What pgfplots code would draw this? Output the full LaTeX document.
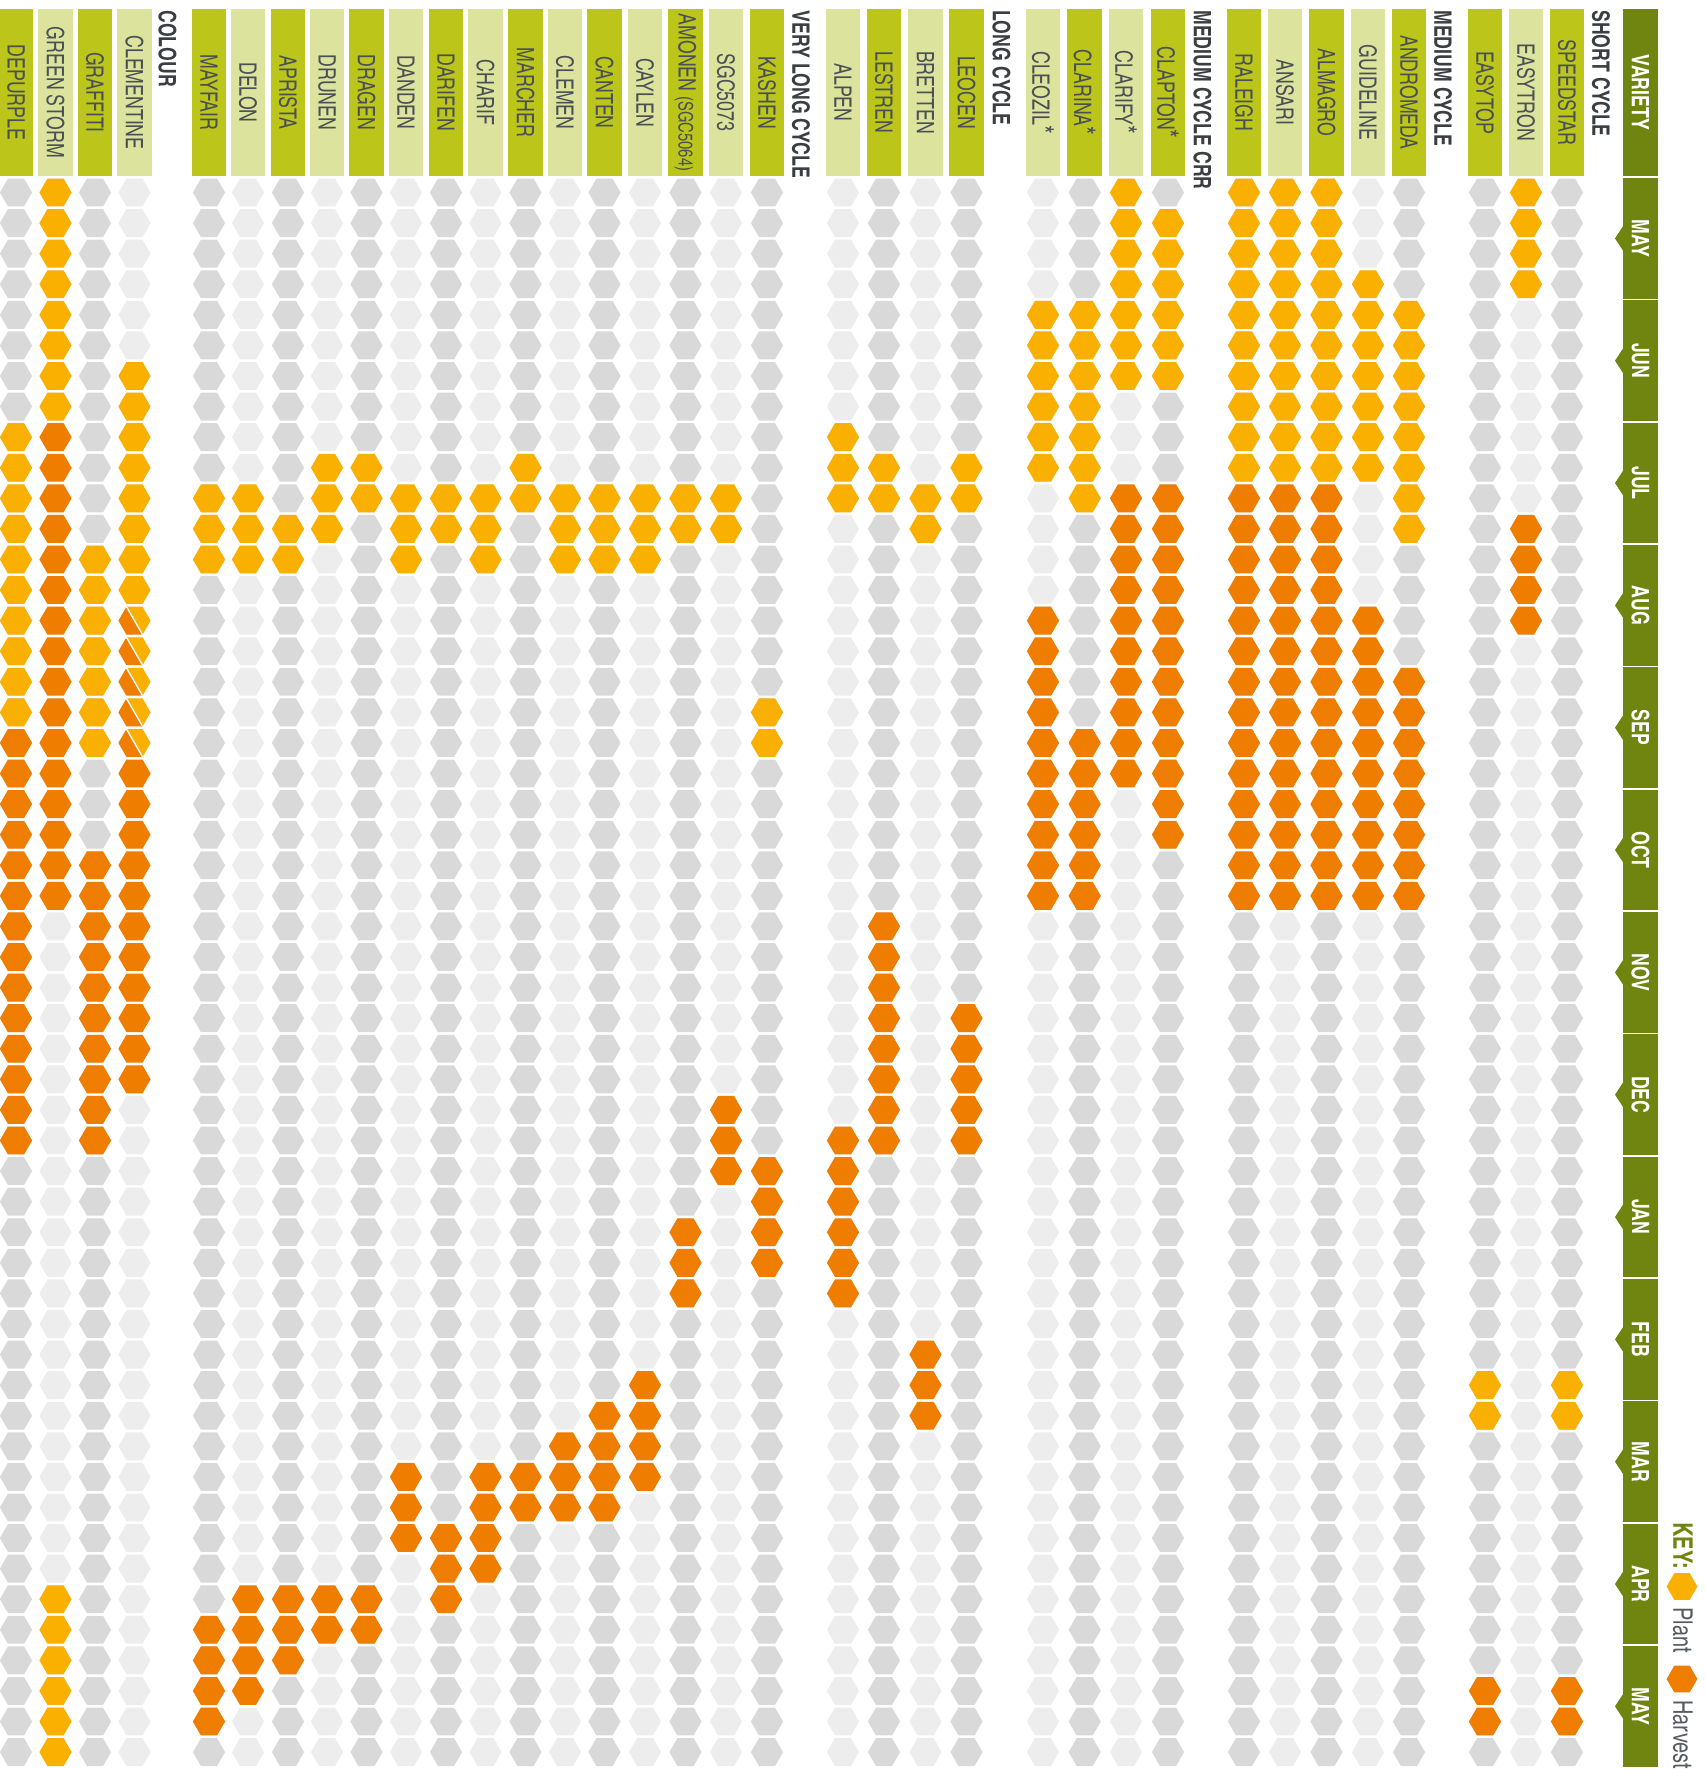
\documentclass[border=0pt]{standalone}
\usepackage{fontspec}
\setmainfont{texgyreheroscn}[Extension=.otf,UprightFont=*-regular,BoldFont=*-bold,FakeStretch=0.9]
\usepackage{pgfplots}
\pgfplotsset{compat=1.18}
\usepackage{pgfplotstable}

\definecolor{olivebar}{RGB}{112,133,15}
\definecolor{hdark}{RGB}{187,197,26}
\definecolor{hlight}{RGB}{220,227,157}
\definecolor{gdark}{RGB}{217,217,217}
\definecolor{glight}{RGB}{236,237,236}
\definecolor{plantc}{RGB}{249,176,0}
\definecolor{harvc}{RGB}{239,125,0}
\definecolor{lbltext}{RGB}{75,80,86}
\definecolor{grptext}{RGB}{58,62,67}
\definecolor{keytext}{RGB}{88,92,97}

\pgfdeclareplotmark{hexf}{%
 \pgfpathmoveto{\pgfqpointpolar{0}{\pgfplotmarksize}}%
 \pgfpathlineto{\pgfqpointpolar{60}{\pgfplotmarksize}}%
 \pgfpathlineto{\pgfqpointpolar{120}{\pgfplotmarksize}}%
 \pgfpathlineto{\pgfqpointpolar{180}{\pgfplotmarksize}}%
 \pgfpathlineto{\pgfqpointpolar{240}{\pgfplotmarksize}}%
 \pgfpathlineto{\pgfqpointpolar{300}{\pgfplotmarksize}}%
 \pgfpathclose\pgfusepathqfill}
\pgfdeclareplotmark{hexUR}{%
 \pgfpathmoveto{\pgfqpointpolar{300}{\pgfplotmarksize}}%
 \pgfpathlineto{\pgfqpointpolar{0}{\pgfplotmarksize}}%
 \pgfpathlineto{\pgfqpointpolar{60}{\pgfplotmarksize}}%
 \pgfpathlineto{\pgfqpointpolar{120}{\pgfplotmarksize}}%
 \pgfpathclose\pgfusepathqfill}
\pgfdeclareplotmark{hexLL}{%
 \pgfpathmoveto{\pgfqpointpolar{120}{\pgfplotmarksize}}%
 \pgfpathlineto{\pgfqpointpolar{180}{\pgfplotmarksize}}%
 \pgfpathlineto{\pgfqpointpolar{240}{\pgfplotmarksize}}%
 \pgfpathlineto{\pgfqpointpolar{300}{\pgfplotmarksize}}%
 \pgfpathclose\pgfusepathqfill}
\pgfdeclareplotmark{hexcut}{%
 \pgfpathmoveto{\pgfqpointpolar{120}{\pgfplotmarksize}}%
 \pgfpathlineto{\pgfqpointpolar{300}{\pgfplotmarksize}}%
 \pgfusepathqstroke}

\pgfplotsset{
 hexbase/.style={only marks, mark=hexf, mark size=8.05pt, forget plot},
 gd/.style={hexbase, color=gdark},
 gl/.style={hexbase, color=glight},
 pl/.style={hexbase, color=plantc},
 hv/.style={hexbase, color=harvc},
}

\pgfplotstableread[row sep=\\]{r\\0\\1\\2\\3\\4\\5\\6\\7\\8\\9\\10\\11\\12\\13\\14\\15\\16\\17\\18\\19\\20\\21\\22\\23\\24\\25\\26\\27\\28\\29\\30\\31\\32\\33\\34\\35\\36\\37\\38\\39\\40\\41\\42\\43\\44\\45\\46\\47\\48\\49\\50\\51\\}\weeks

\tikzset{
 hdrlbl/.style={rotate=-90, inner sep=0pt, font=\fontsize{12}{12}\selectfont, text=lbltext},
 grplbl/.style={rotate=-90, anchor=west, inner sep=0pt, font=\bfseries\fontsize{12}{12}\selectfont, text=grptext},
 monlbl/.style={rotate=-90, inner sep=0pt, font=\bfseries\fontsize{12}{12}\selectfont, text=white},
 keylbl/.style={rotate=-90, anchor=base west, inner sep=0pt, font=\fontsize{13.5}{13.5}\selectfont, text=keytext},
}
\newcommand\hdr[3]{\fill[#2] ({#1-17.3},9) rectangle ({#1+17.3},176); \node[hdrlbl] at (#1,92.5) {#3};}
\newcommand\bigast{{\fontsize{15}{15}\selectfont *}}

\begin{document}
\begin{tikzpicture}
\begin{axis}[at={(0,0)}, anchor=south west,
  width=853pt, height=884.5pt, scale only axis,
  xmin=0, xmax=1706, ymin=-6.295, ymax=51.553, y dir=reverse,
  hide axis, clip=false]

% ---- grey background cells (one column per variety) ----
\addplot[gd] table[x expr=1567,y=r]{\weeks};
\addplot[gl] table[x expr=1526,y=r]{\weeks};
\addplot[gd] table[x expr=1485,y=r]{\weeks};
\addplot[gd] table[x expr=1409,y=r]{\weeks};
\addplot[gl] table[x expr=1368,y=r]{\weeks};
\addplot[gd] table[x expr=1326.5,y=r]{\weeks};
\addplot[gl] table[x expr=1285,y=r]{\weeks};
\addplot[gd] table[x expr=1244,y=r]{\weeks};
\addplot[gd] table[x expr=1168,y=r]{\weeks};
\addplot[gl] table[x expr=1126,y=r]{\weeks};
\addplot[gd] table[x expr=1084.7,y=r]{\weeks};
\addplot[gl] table[x expr=1043,y=r]{\weeks};
\addplot[gd] table[x expr=966.5,y=r]{\weeks};
\addplot[gl] table[x expr=925.5,y=r]{\weeks};
\addplot[gd] table[x expr=884,y=r]{\weeks};
\addplot[gl] table[x expr=843,y=r]{\weeks};
\addplot[gd] table[x expr=767,y=r]{\weeks};
\addplot[gl] table[x expr=726,y=r]{\weeks};
\addplot[gd] table[x expr=685.5,y=r]{\weeks};
\addplot[gl] table[x expr=645,y=r]{\weeks};
\addplot[gd] table[x expr=604.5,y=r]{\weeks};
\addplot[gl] table[x expr=565,y=r]{\weeks};
\addplot[gd] table[x expr=525.5,y=r]{\weeks};
\addplot[gl] table[x expr=485.5,y=r]{\weeks};
\addplot[gd] table[x expr=446,y=r]{\weeks};
\addplot[gl] table[x expr=406,y=r]{\weeks};
\addplot[gd] table[x expr=366.5,y=r]{\weeks};
\addplot[gl] table[x expr=327,y=r]{\weeks};
\addplot[gd] table[x expr=288,y=r]{\weeks};
\addplot[gl] table[x expr=248,y=r]{\weeks};
\addplot[gd] table[x expr=209,y=r]{\weeks};
\addplot[gl] table[x expr=134.5,y=r]{\weeks};
\addplot[gd] table[x expr=95,y=r]{\weeks};
\addplot[gl] table[x expr=55.5,y=r]{\weeks};
\addplot[gd] table[x expr=16,y=r]{\weeks};

% ---- PLANT weeks ----
\addplot[pl] coordinates {(1567,39)(1567,40)}; % SPEEDSTAR
\addplot[pl] coordinates {(1526,0)(1526,1)(1526,2)(1526,3)}; % EASYTRON
\addplot[pl] coordinates {(1485,39)(1485,40)}; % EASYTOP
\addplot[pl] coordinates {(1409,4)(1409,5)(1409,6)(1409,7)(1409,8)(1409,9)(1409,10)(1409,11)}; % ANDROMEDA
\addplot[pl] coordinates {(1368,3)(1368,4)(1368,5)(1368,6)(1368,7)(1368,8)(1368,9)}; % GUIDELINE
\addplot[pl] coordinates {(1326.5,0)(1326.5,1)(1326.5,2)(1326.5,3)(1326.5,4)(1326.5,5)(1326.5,6)(1326.5,7)(1326.5,8)(1326.5,9)}; % ALMAGRO
\addplot[pl] coordinates {(1285,0)(1285,1)(1285,2)(1285,3)(1285,4)(1285,5)(1285,6)(1285,7)(1285,8)(1285,9)}; % ANSARI
\addplot[pl] coordinates {(1244,0)(1244,1)(1244,2)(1244,3)(1244,4)(1244,5)(1244,6)(1244,7)(1244,8)(1244,9)}; % RALEIGH
\addplot[pl] coordinates {(1168,1)(1168,2)(1168,3)(1168,4)(1168,5)(1168,6)}; % CLAPTON
\addplot[pl] coordinates {(1126,0)(1126,1)(1126,2)(1126,3)(1126,4)(1126,5)(1126,6)}; % CLARIFY
\addplot[pl] coordinates {(1084.7,4)(1084.7,5)(1084.7,6)(1084.7,7)(1084.7,8)(1084.7,9)(1084.7,10)}; % CLARINA
\addplot[pl] coordinates {(1043,4)(1043,5)(1043,6)(1043,7)(1043,8)(1043,9)}; % CLEOZIL
\addplot[pl] coordinates {(966.5,9)(966.5,10)}; % LEOCEN
\addplot[pl] coordinates {(925.5,10)(925.5,11)}; % BRETTEN
\addplot[pl] coordinates {(884,9)(884,10)}; % LESTREN
\addplot[pl] coordinates {(843,8)(843,9)(843,10)}; % ALPEN
\addplot[pl] coordinates {(767,17)(767,18)}; % KASHEN
\addplot[pl] coordinates {(726,10)(726,11)}; % SGC5073
\addplot[pl] coordinates {(685.5,10)(685.5,11)}; % AMONEN
\addplot[pl] coordinates {(645,10)(645,11)(645,12)}; % CAYLEN
\addplot[pl] coordinates {(604.5,10)(604.5,11)(604.5,12)}; % CANTEN
\addplot[pl] coordinates {(565,10)(565,11)(565,12)}; % CLEMEN
\addplot[pl] coordinates {(525.5,9)(525.5,10)}; % MARCHER
\addplot[pl] coordinates {(485.5,10)(485.5,11)(485.5,12)}; % CHARIF
\addplot[pl] coordinates {(446,10)(446,11)}; % DARIFEN
\addplot[pl] coordinates {(406,10)(406,11)(406,12)}; % DANDEN
\addplot[pl] coordinates {(366.5,9)(366.5,10)}; % DRAGEN
\addplot[pl] coordinates {(327,9)(327,10)(327,11)}; % DRUNEN
\addplot[pl] coordinates {(288,11)(288,12)}; % APRISTA
\addplot[pl] coordinates {(248,10)(248,11)(248,12)}; % DELON
\addplot[pl] coordinates {(209,10)(209,11)(209,12)}; % MAYFAIR
\addplot[pl] coordinates {(134.5,6)(134.5,7)(134.5,8)(134.5,9)(134.5,10)(134.5,11)(134.5,12)(134.5,13)}; % CLEMENTINE
\addplot[pl] coordinates {(95,12)(95,13)(95,14)(95,15)(95,16)(95,17)(95,18)}; % GRAFFITI
\addplot[pl] coordinates {(55.5,0)(55.5,1)(55.5,2)(55.5,3)(55.5,4)(55.5,5)(55.5,6)(55.5,7)(55.5,46)(55.5,47)(55.5,48)(55.5,49)(55.5,50)(55.5,51)}; % GREEN STORM
\addplot[pl] coordinates {(16,8)(16,9)(16,10)(16,11)(16,12)(16,13)(16,14)(16,15)(16,16)(16,17)}; % DEPURPLE

% ---- HARVEST weeks ----
\addplot[hv] coordinates {(1567,49)(1567,50)}; % SPEEDSTAR
\addplot[hv] coordinates {(1526,11)(1526,12)(1526,13)(1526,14)}; % EASYTRON
\addplot[hv] coordinates {(1485,49)(1485,50)}; % EASYTOP
\addplot[hv] coordinates {(1409,16)(1409,17)(1409,18)(1409,19)(1409,20)(1409,21)(1409,22)(1409,23)}; % ANDROMEDA
\addplot[hv] coordinates {(1368,14)(1368,15)(1368,16)(1368,17)(1368,18)(1368,19)(1368,20)(1368,21)(1368,22)(1368,23)}; % GUIDELINE
\addplot[hv] coordinates {(1326.5,10)(1326.5,11)(1326.5,12)(1326.5,13)(1326.5,14)(1326.5,15)(1326.5,16)(1326.5,17)(1326.5,18)(1326.5,19)(1326.5,20)(1326.5,21)(1326.5,22)(1326.5,23)}; % ALMAGRO
\addplot[hv] coordinates {(1285,10)(1285,11)(1285,12)(1285,13)(1285,14)(1285,15)(1285,16)(1285,17)(1285,18)(1285,19)(1285,20)(1285,21)(1285,22)(1285,23)}; % ANSARI
\addplot[hv] coordinates {(1244,10)(1244,11)(1244,12)(1244,13)(1244,14)(1244,15)(1244,16)(1244,17)(1244,18)(1244,19)(1244,20)(1244,21)(1244,22)(1244,23)}; % RALEIGH
\addplot[hv] coordinates {(1168,10)(1168,11)(1168,12)(1168,13)(1168,14)(1168,15)(1168,16)(1168,17)(1168,18)(1168,19)(1168,20)(1168,21)}; % CLAPTON
\addplot[hv] coordinates {(1126,10)(1126,11)(1126,12)(1126,13)(1126,14)(1126,15)(1126,16)(1126,17)(1126,18)(1126,19)}; % CLARIFY
\addplot[hv] coordinates {(1084.7,18)(1084.7,19)(1084.7,20)(1084.7,21)(1084.7,22)(1084.7,23)}; % CLARINA
\addplot[hv] coordinates {(1043,14)(1043,15)(1043,16)(1043,17)(1043,18)(1043,19)(1043,20)(1043,21)(1043,22)(1043,23)}; % CLEOZIL
\addplot[hv] coordinates {(966.5,27)(966.5,28)(966.5,29)(966.5,30)(966.5,31)}; % LEOCEN
\addplot[hv] coordinates {(925.5,38)(925.5,39)(925.5,40)}; % BRETTEN
\addplot[hv] coordinates {(884,24)(884,25)(884,26)(884,27)(884,28)(884,29)(884,30)(884,31)}; % LESTREN
\addplot[hv] coordinates {(843,31)(843,32)(843,33)(843,34)(843,35)(843,36)}; % ALPEN
\addplot[hv] coordinates {(767,32)(767,33)(767,34)(767,35)}; % KASHEN
\addplot[hv] coordinates {(726,30)(726,31)(726,32)}; % SGC5073
\addplot[hv] coordinates {(685.5,34)(685.5,35)(685.5,36)}; % AMONEN
\addplot[hv] coordinates {(645,39)(645,40)(645,41)(645,42)}; % CAYLEN
\addplot[hv] coordinates {(604.5,40)(604.5,41)(604.5,42)(604.5,43)}; % CANTEN
\addplot[hv] coordinates {(565,41)(565,42)(565,43)}; % CLEMEN
\addplot[hv] coordinates {(525.5,42)(525.5,43)}; % MARCHER
\addplot[hv] coordinates {(485.5,42)(485.5,43)(485.5,44)(485.5,45)}; % CHARIF
\addplot[hv] coordinates {(446,44)(446,45)(446,46)}; % DARIFEN
\addplot[hv] coordinates {(406,42)(406,43)(406,44)}; % DANDEN
\addplot[hv] coordinates {(366.5,46)(366.5,47)}; % DRAGEN
\addplot[hv] coordinates {(327,46)(327,47)}; % DRUNEN
\addplot[hv] coordinates {(288,46)(288,47)(288,48)}; % APRISTA
\addplot[hv] coordinates {(248,46)(248,47)(248,48)(248,49)}; % DELON
\addplot[hv] coordinates {(209,47)(209,48)(209,49)(209,50)}; % MAYFAIR
\addplot[hv] coordinates {(134.5,19)(134.5,20)(134.5,21)(134.5,22)(134.5,23)(134.5,24)(134.5,25)(134.5,26)(134.5,27)(134.5,28)(134.5,29)}; % CLEMENTINE
\addplot[hv] coordinates {(95,22)(95,23)(95,24)(95,25)(95,26)(95,27)(95,28)(95,29)(95,30)(95,31)}; % GRAFFITI
\addplot[hv] coordinates {(55.5,8)(55.5,9)(55.5,10)(55.5,11)(55.5,12)(55.5,13)(55.5,14)(55.5,15)(55.5,16)(55.5,17)(55.5,18)(55.5,19)(55.5,20)(55.5,21)(55.5,22)(55.5,23)}; % GREEN STORM
\addplot[hv] coordinates {(16,18)(16,19)(16,20)(16,21)(16,22)(16,23)(16,24)(16,25)(16,26)(16,27)(16,28)(16,29)(16,30)(16,31)}; % DEPURPLE

% ---- CLEMENTINE: plant + harvest in the same week ----
\addplot[hexbase, mark=hexUR, color=plantc] coordinates {(134.5,14)(134.5,15)(134.5,16)(134.5,17)(134.5,18)};
\addplot[hexbase, mark=hexLL, color=harvc] coordinates {(134.5,14)(134.5,15)(134.5,16)(134.5,17)(134.5,18)};
\addplot[hexbase, mark=hexcut, color=white, mark options={line width=0.7pt}] coordinates {(134.5,14)(134.5,15)(134.5,16)(134.5,17)(134.5,18)};

% ---- key symbols ----
\addplot[hexbase, mark size=7.7pt, color=plantc] coordinates {(1682,45.585)};
\addplot[hexbase, mark size=7.7pt, color=harvc] coordinates {(1682,48.61)};
\end{axis}

\begin{scope}[x=0.5pt,y=-0.5pt,shift={(0pt,884.5pt)}]
% variety header
\fill[olivebar] (1623,9) rectangle (1658,176);
\node[monlbl] at (1640.5,92.5) {VARIETY};
% month band
\foreach \m/\lab in {0/MAY,1/JUN,2/JUL,3/AUG,4/SEP,5/OCT,6/NOV,7/DEC,8/JAN,9/FEB,10/MAR,11/APR,12/MAY}{
  \fill[olivebar] (1623,{178+122.33*\m}) rectangle (1658,{298.8+122.33*\m});
  \fill[olivebar] (1623.5,{225.4+122.33*\m}) -- (1615,{238.4+122.33*\m}) -- (1623.5,{251.4+122.33*\m}) -- cycle;
  \node[monlbl] at (1640.5,{238.4+122.33*\m}) {\lab};
}
% group labels
\node[grplbl] at (1601,10) {SHORT CYCLE};
\node[grplbl] at (1443,10) {MEDIUM CYCLE};
\node[grplbl] at (1202.5,10) {MEDIUM CYCLE CRR};
\node[grplbl] at (1001.5,10) {LONG CYCLE};
\node[grplbl] at (801,10) {VERY LONG CYCLE};
\node[grplbl] at (167.5,10) {COLOUR};
% variety headers
\hdr{1567}{hdark}{SPEEDSTAR}
\hdr{1526}{hlight}{EASYTRON}
\hdr{1485}{hdark}{EASYTOP}
\hdr{1409}{hdark}{ANDROMEDA}
\hdr{1368}{hlight}{GUIDELINE}
\hdr{1326.5}{hdark}{ALMAGRO}
\hdr{1285}{hlight}{ANSARI}
\hdr{1244}{hdark}{RALEIGH}
\hdr{1168}{hdark}{CLAPTON\bigast}
\hdr{1126}{hlight}{CLARIFY\bigast}
\hdr{1084.7}{hdark}{CLARINA\bigast}
\hdr{1043}{hlight}{CLEOZIL\bigast}
\hdr{966.5}{hdark}{LEOCEN}
\hdr{925.5}{hlight}{BRETTEN}
\hdr{884}{hdark}{LESTREN}
\hdr{843}{hlight}{ALPEN}
\hdr{767}{hdark}{KASHEN}
\hdr{726}{hlight}{SGC5073}
\hdr{685.5}{hdark}{AMONEN {\fontsize{10}{10}\selectfont (SGC5064)}}
\hdr{645}{hlight}{CAYLEN}
\hdr{604.5}{hdark}{CANTEN}
\hdr{565}{hlight}{CLEMEN}
\hdr{525.5}{hdark}{MARCHER}
\hdr{485.5}{hlight}{CHARIF}
\hdr{446}{hdark}{DARIFEN}
\hdr{406}{hlight}{DANDEN}
\hdr{366.5}{hdark}{DRAGEN}
\hdr{327}{hlight}{DRUNEN}
\hdr{288}{hdark}{APRISTA}
\hdr{248}{hlight}{DELON}
\hdr{209}{hdark}{MAYFAIR}
\hdr{134.5}{hlight}{CLEMENTINE}
\hdr{95}{hdark}{GRAFFITI}
\hdr{55.5}{hlight}{GREEN STORM}
\hdr{16}{hdark}{DEPURPLE}
% key text
\node[keylbl, font=\bfseries\fontsize{13.5}{13.5}\selectfont, text=olivebar] at (1673.3,1522) {KEY:};
\node[keylbl] at (1673.3,1607) {Plant};
\node[keylbl] at (1673.3,1700) {Harvest};
\end{scope}
\pgfresetboundingbox
\path[use as bounding box] (0,0) rectangle (853pt,884.5pt);
\end{tikzpicture}
\end{document}
